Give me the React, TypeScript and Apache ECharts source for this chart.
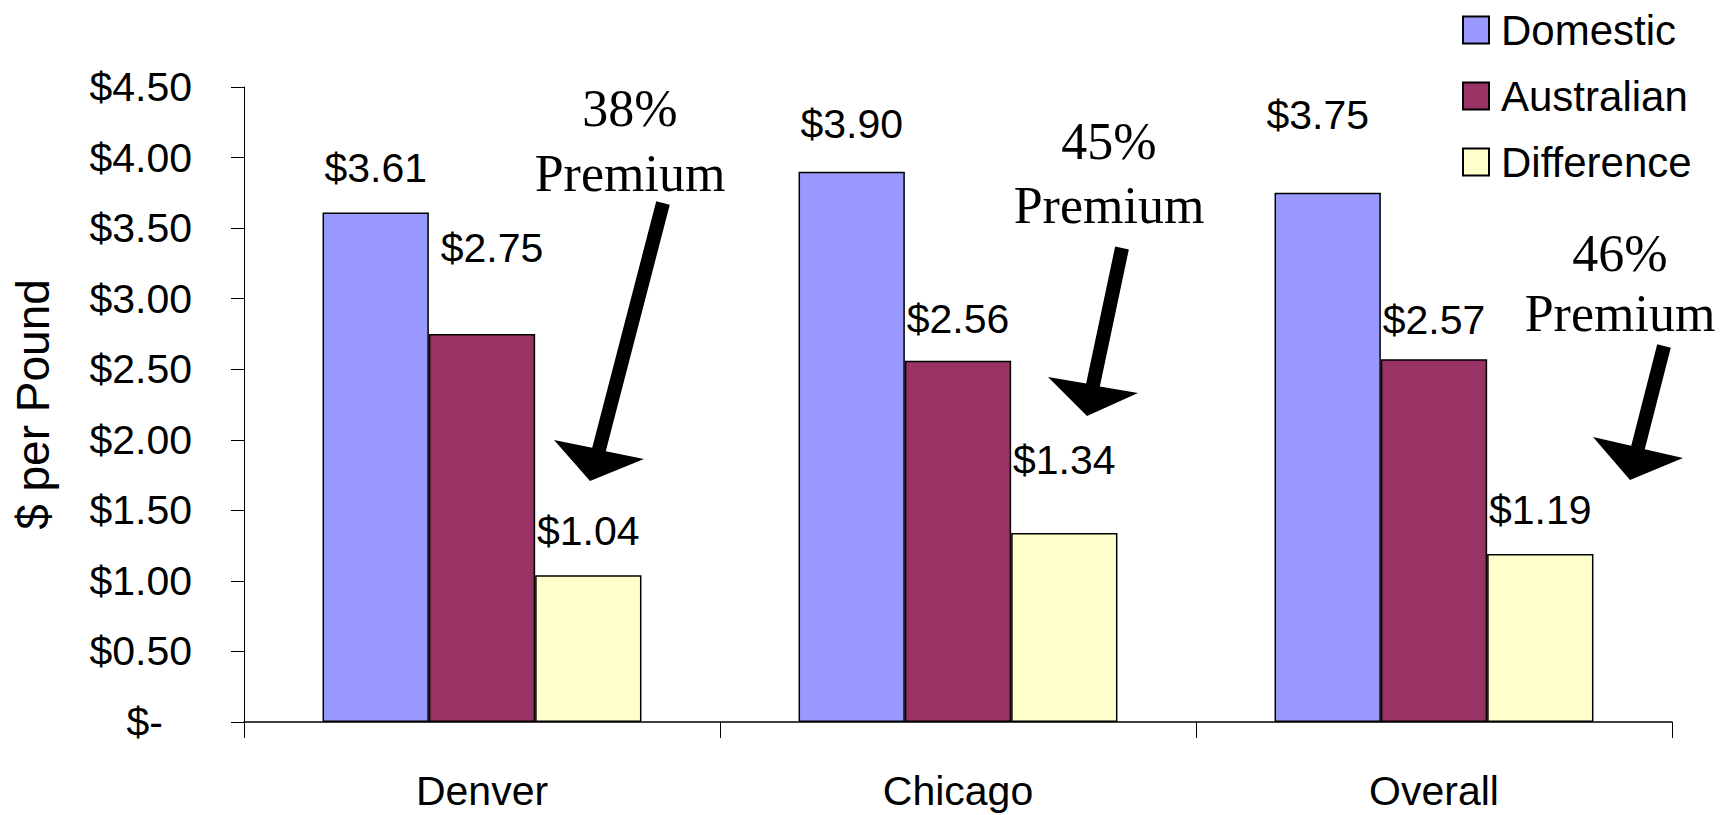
import React, { useEffect, useRef } from "react";
import * as echarts from "echarts";

const categories = ["Denver", "Chicago", "Overall"];
const seriesNames = ["Domestic", "Australian", "Difference"];
const domestic = [3.61, 3.9, 3.75];
const australian = [2.75, 2.56, 2.57];
const difference = [1.04, 1.34, 1.19];
const yTicks = { min: 0, max: 4.5, interval: 0.5 };
const premiums = ["38%", "45%", "46%"];

const colors = ["#9999FF", "#993366", "#FFFFCC"];
// per-label manual nudges [dx, dy] (as in the original hand-placed labels)
const labelNudges: number[][][] = [
  [[0, 0], [0, -3], [-10, -33]],
  [[10, -41], [0, 3], [0, 5]],
  [[0, 0], [0, -28], [0, 0]],
];

const SANS = "'Liberation Sans', Arial, Helvetica, sans-serif";
const SERIF = "'Liberation Serif', 'Times New Roman', serif";

type Pt = [number, number];
function arrowPoints(T: Pt, L: Pt, R: Pt, P: Pt, w: number): Pt[] {
  const M: Pt = [(L[0] + R[0]) / 2, (L[1] + R[1]) / 2];
  const dx = M[0] - T[0];
  const dy = M[1] - T[1];
  const len = Math.hypot(dx, dy);
  const d = [dx / len, dy / len];
  const n = [-d[1], d[0]];
  const h = w / 2;
  return [
    [T[0] - n[0] * h, T[1] - n[1] * h],
    [M[0] - n[0] * h, M[1] - n[1] * h],
    R,
    P,
    L,
    [M[0] + n[0] * h, M[1] + n[1] * h],
    [T[0] + n[0] * h, T[1] + n[1] * h],
  ];
}

const arrows: { T: Pt; L: Pt; R: Pt; P: Pt }[] = [
  { T: [663, 203], L: [554, 440], R: [644, 459], P: [590, 481] },
  { T: [1122, 248], L: [1048, 377], R: [1138, 393], P: [1087, 416] },
  { T: [1664, 346], L: [1593, 437], R: [1683, 458], P: [1630, 480] },
];
const premiumText = [
  { x: 630, y1: 108, y2: 173 },
  { x: 1109, y1: 141, y2: 205 },
  { x: 1620, y1: 253, y2: 313 },
];

export default function App() {
  const ref = useRef<HTMLDivElement>(null);
  useEffect(() => {
    if (!ref.current) return;
    const chart = echarts.init(ref.current, null, { renderer: "svg" });
    const allData = [domestic, australian, difference];
    const series = allData.map((vals, si) => ({
      name: seriesNames[si],
      type: "bar",
      barGap: "0%",
      barCategoryGap: "33%",
      itemStyle: { color: colors[si], borderColor: "#000", borderWidth: 1.5 },
      data: vals.map((v, ci) => ({
        value: v,
        label: { offset: labelNudges[si][ci] },
      })),
      label: {
        show: true,
        position: "top",
        distance: 24,
        fontFamily: SANS,
        fontSize: 41,
        color: "#000",
        formatter: (p: any) => "$" + Number(p.value).toFixed(2),
      },
    }));

    const graphics: any[] = [];
    arrows.forEach((a) => {
      graphics.push({
        type: "polygon",
        shape: { points: arrowPoints(a.T, a.L, a.R, a.P, 14) },
        style: { fill: "#000" },
      });
    });
    premiumText.forEach((t, i) => {
      graphics.push({
        type: "text",
        x: t.x,
        y: t.y1,
        style: {
          text: premiums[i],
          font: `52px ${SERIF}`,
          fill: "#000",
          textAlign: "center",
          textVerticalAlign: "middle",
        },
      });
      graphics.push({
        type: "text",
        x: t.x,
        y: t.y2,
        style: {
          text: "Premium",
          font: `52px ${SERIF}`,
          fill: "#000",
          textAlign: "center",
          textVerticalAlign: "middle",
        },
      });
    });

    chart.setOption({
      animation: false,
      backgroundColor: "#fff",
      grid: {
        left: 244,
        right: 51,
        top: 87,
        bottom: 93,
        containLabel: false,
        outerBoundsMode: "none",
      },
      legend: {
        orient: "vertical",
        left: 1457,
        top: 4,
        itemWidth: 26,
        itemHeight: 27,
        itemGap: 24,
        icon: "rect",
        data: seriesNames,
        textStyle: {
          fontFamily: SANS,
          fontSize: 42,
          lineHeight: 42,
          color: "#000",
          padding: [0, 0, 0, 7],
        },
      },
      xAxis: {
        type: "category",
        data: categories,
        axisLine: { lineStyle: { color: "#000", width: 1.5 } },
        axisTick: { show: true, length: 16, lineStyle: { color: "#000", width: 1 } },
        axisLabel: {
          fontFamily: SANS,
          fontSize: 41,
          color: "#000",
          margin: 48,
        },
      },
      yAxis: {
        type: "value",
        min: yTicks.min,
        max: yTicks.max,
        interval: yTicks.interval,
        name: "$ per Pound",
        nameLocation: "middle",
        nameRotate: 90,
        nameGap: 188,
        nameTextStyle: { fontFamily: SANS, fontSize: 46, color: "#000" },
        splitLine: { show: false },
        axisLine: { show: true, lineStyle: { color: "#000", width: 1 } },
        axisTick: { show: true, length: 13, lineStyle: { color: "#000", width: 1 } },
        axisLabel: {
          fontFamily: SANS,
          fontSize: 41,
          color: "#000",
          margin: 52,
          formatter: (v: number) => (v === 0 ? "{z|$-}" : "$" + v.toFixed(2)),
          rich: {
            z: { fontFamily: SANS, fontSize: 41, color: "#000", padding: [0, 29, 0, 0] },
          },
        },
      },
      series,
      graphic: graphics,
    });
    return () => chart.dispose();
  }, []);
  return (
    <div
      ref={ref}
      style={{ position: "fixed", left: 0, top: 0, width: 1723, height: 815 }}
    />
  );
}
